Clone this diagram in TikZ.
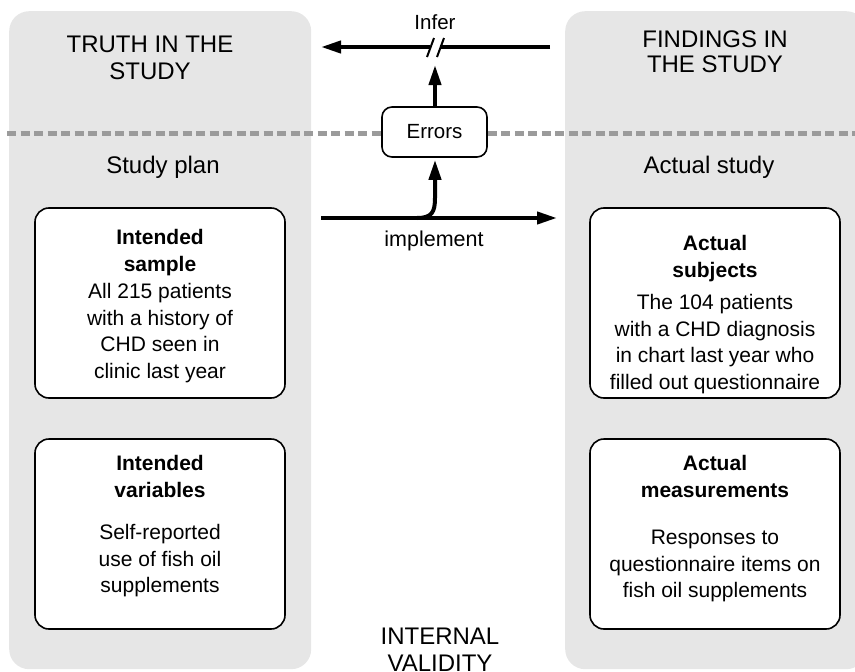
\documentclass[tikz,border=0pt]{standalone}
\usepackage{fontspec}
\setmainfont{Liberation Sans}
\usetikzlibrary{arrows.meta}
\definecolor{panelgray}{RGB}{230,230,230}
\definecolor{dashgray}{RGB}{155,155,155}
\newcommand\boxtext[4]{\parbox[c][190pt][t]{250pt}{\centering\fontsize{21}{26.5}\selectfont\vspace*{#1}\textbf{#2}\par\vspace*{#3}#4\par}}
\tikzset{
  panel/.style={fill=panelgray, draw=none, rounded corners=20pt},
  infobox/.style={draw=black, line width=1.6pt, fill=white, rounded corners=14pt, inner sep=0pt, outer sep=0pt},
  errbox/.style={draw=black, line width=1.6pt, fill=white, rounded corners=10pt, inner sep=0pt,
    minimum width=105pt, minimum height=50pt, font=\fontsize{20.5}{24}\selectfont},
  title/.style={align=center, anchor=base, inner sep=0pt},
  label/.style={anchor=base, inner sep=0pt, font=\fontsize{20.5}{24}\selectfont},
  dashline/.style={draw=dashgray, line width=5pt, dash pattern=on 9pt off 4.5pt},
  bigarrow/.style={line width=4pt, -{Triangle[length=20pt,width=12pt]}},
  plainline/.style={line width=4pt},
  slash/.style={line width=2pt},
}
\begin{document}
\begin{tikzpicture}[x=1pt,y=-1pt]
\useasboundingbox (0,0) rectangle (855,672);
\clip (0,0) rectangle (855,672);
% panels
\node[panel, minimum width=302pt, minimum height=658pt, anchor=north west] (leftpanel) at (9,11) {};
\node[panel, minimum width=301pt, minimum height=658pt, anchor=north west] (rightpanel) at (565,11) {};
% titles (base = baseline of last line)
\node[title, font=\fontsize{24}{27}\selectfont] (truth) at (150,79.6) {TRUTH IN THE\\STUDY};
\node[title, font=\fontsize{24}{25.6}\selectfont] (findings) at (715,72.6) {FINDINGS IN\\THE STUDY};
\node[title, font=\fontsize{24}{27}\selectfont] (plan) at (163,173.6) {Study plan};
\node[title, font=\fontsize{24}{27}\selectfont] (actual) at (709,173.6) {Actual study};
\node[title, font=\fontsize{24}{27}\selectfont] (internal) at (440,671.6) {INTERNAL\\VALIDITY};
% boxes
\node[infobox] (sample) at (160,303) {\boxtext{21.3pt}{Intended\\sample}{1pt}{All 215 patients\\with a history of\\CHD seen in\\clinic last year}};
\node[infobox] (variables) at (160,534) {\boxtext{16.3pt}{Intended\\variables}{16pt}{Self-reported\\use of fish oil\\supplements}};
\node[infobox] (subjects) at (715,303) {\boxtext{27.3pt}{Actual\\subjects}{6pt}{The 104 patients\\with a CHD diagnosis\\in chart last year who\\filled out questionnaire}};
\node[infobox] (measures) at (715,534) {\boxtext{16.3pt}{Actual\\measurements}{21pt}{Responses to\\questionnaire items on\\fish oil supplements}};
% errors box and dashed line
\node[errbox] (errors) at (434.5,132) {Errors};
\coordinate (dashL) at (7,133);
\coordinate (dashR) at (855,133);
\draw[dashline] (dashL) -- (errors.west |- dashL);
\draw[dashline] (errors.east |- dashR) -- (dashR);
% infer arrow with break
\coordinate (inferstart) at (550,47);
\coordinate (inferend) at (321,47);
\coordinate (breakR) at (440,47);
\coordinate (breakL) at (430,47);
\draw[plainline] (inferstart) -- (breakR);
\draw[bigarrow] (breakL) -- (inferend);
\draw[slash] (427,57) -- (434,38);
\draw[slash] (437,57) -- (444,38);
\node[label] (infer) at (435,29) {Infer};
% errors up to break
\coordinate (breaktarget) at (435,65);
\draw[bigarrow] (errors.north -| breaktarget) -- (breaktarget);
% implement arrow
\coordinate (implstart) at (321,218);
\coordinate (implend) at (557,218);
\coordinate (branch) at (417,218);
\draw[bigarrow] (implstart) -- (implend);
\draw[bigarrow, shorten >=2pt] (branch) .. controls (432,218) and (435,212) .. (435,198) -- (errors.south -| breaktarget);
\node[label, font=\fontsize{21.5}{24}\selectfont] (implement) at (434,246) {implement};
\end{tikzpicture}
\end{document}
